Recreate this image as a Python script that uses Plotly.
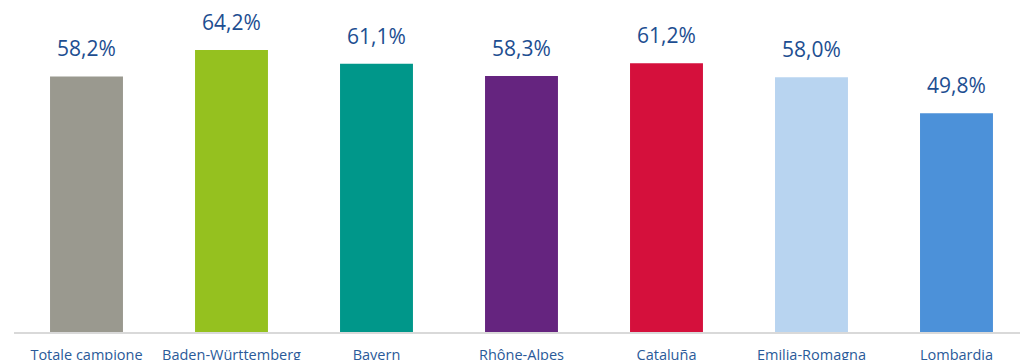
import plotly.graph_objects as go

regions = ["Totale campione", "Baden-Württemberg", "Bayern", "Rhône-Alpes",
           "Cataluña", "Emilia-Romagna", "Lombardia"]
shares = [58.2, 64.2, 61.1, 58.3, 61.2, 58.0, 49.8]
bar_colors = ["#9a998f", "#95c11f", "#00978a", "#65247f", "#d5103c", "#b8d4f0", "#4c91d9"]

labels = [f"{v:.1f}%".replace(".", ",") for v in shares]

fig = go.Figure(go.Bar(
    x=regions,
    y=shares,
    marker=dict(color=bar_colors, line=dict(width=0)),
    width=0.503,
    hoverinfo="skip",
))

# value labels floating above each bar
for r, v, t in zip(regions, shares, labels):
    fig.add_annotation(
        x=r, y=v, text=t, showarrow=False,
        xanchor="center", yanchor="bottom", yshift=12,
        font=dict(family="Open Sans", size=21, color="#1d4e91"),
    )

fig.update_layout(
    width=1020, height=360,
    margin=dict(l=14, r=0, t=0, b=28, autoexpand=False),
    paper_bgcolor="white", plot_bgcolor="white",
    showlegend=False,
)
fig.update_xaxes(
    range=[-0.5, 6.438], automargin=False,
    showline=True, linecolor="#d9d9d9", linewidth=2,
    showgrid=False, ticks="", ticklabelstandoff=9,
    tickfont=dict(family="Open Sans", size=14.5, color="#2a5a99"),
)
fig.update_yaxes(range=[0, 75.6], visible=False, showgrid=False, automargin=False)

fig.write_html("out.html")
